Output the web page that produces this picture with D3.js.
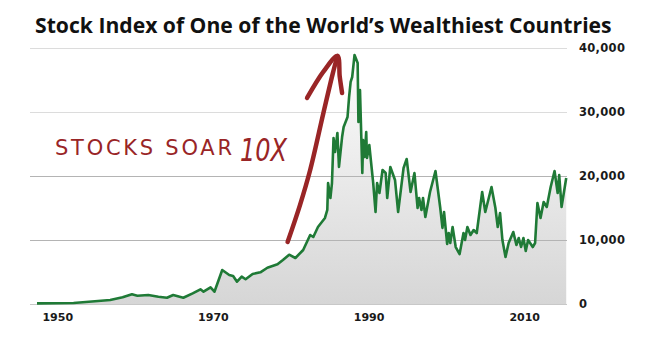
<!DOCTYPE html>
<html>
<head>
<meta charset="utf-8">
<script src="https://cdn.jsdelivr.net/npm/d3@7"></script>
<style>
  html, body { margin: 0; padding: 0; background: #fff; }
  svg { display: block; }
</style>
</head>
<body>
<div id="chart"></div>
<script>
// Index values (year as plotted, index level)
const years = [
  1947.4, 1952.1, 1956.8, 1958.4, 1959.6, 1960.3, 1961.7, 1963.0, 1964.1, 1964.9,
  1966.2, 1967.4, 1968.4, 1968.8, 1969.7, 1970.2, 1971.2, 1972.1, 1972.6, 1973.1,
  1973.7, 1974.2, 1975.1, 1976.1, 1977.0, 1978.3, 1979.0, 1979.8, 1980.6, 1981.6,
  1982.5, 1982.9, 1983.5, 1984.4, 1984.7, 1984.8, 1985.1, 1985.3, 1985.5, 1985.7,
  1986.0, 1986.2, 1986.6, 1986.8, 1987.3, 1987.5, 1987.7, 1987.9, 1988.2, 1988.6,
  1988.7, 1988.9, 1989.2, 1989.3, 1989.5, 1989.7, 1989.8, 1990.1, 1990.4, 1990.6,
  1990.9, 1991.1, 1991.4, 1991.8, 1992.2, 1992.4, 1992.8, 1993.4, 1993.8, 1994.5,
  1994.9, 1995.1, 1995.4, 1995.9, 1996.3, 1996.5, 1996.8, 1997.0, 1997.3, 1997.9,
  1998.6, 1999.2, 1999.5, 1999.7, 2000.1, 2000.3, 2000.5, 2000.8, 2001.2, 2001.7,
  2002.2, 2002.4, 2002.7, 2003.1, 2003.5, 2003.9, 2004.6, 2005.0, 2005.8, 2006.3,
  2006.6, 2006.9, 2007.2, 2007.6, 2008.0, 2008.6, 2009.0, 2009.3, 2009.6, 2009.9,
  2010.2, 2010.5, 2011.1, 2011.4, 2011.7, 2012.1, 2012.5, 2012.9, 2013.4, 2013.9,
  2014.3, 2014.5, 2014.8, 2015.4
];
const values = [
  100, 150, 620, 1050, 1520, 1300, 1400, 1140, 980, 1400,
  980, 1670, 2300, 1920, 2610, 1920, 5310, 4530, 4380, 3480,
  4270, 3860, 4690, 4950, 5670, 6200, 6880, 7700, 7190, 8440,
  10780, 10470, 12030, 13440, 14690, 18900, 16560, 18900, 25940, 23750,
  26720, 21410, 26090, 27660, 29220, 32340, 34690, 35470, 38910, 37660,
  28440, 33440, 20470, 25620, 22970, 26880, 22810, 24840, 21250, 18900,
  14380, 18900, 17340, 20940, 20470, 16560, 21410, 19380, 14380, 21250,
  22660, 20620, 17500, 20470, 15000, 16560, 14690, 16560, 13590, 17500,
  20780, 15160, 11880, 14380, 9380, 11090, 9530, 12030, 8900, 7810,
  11090, 10000, 12030, 10780, 11560, 11090, 17500, 14380, 18280, 15000,
  12030, 14220, 10000, 7340, 9530, 11250, 9220, 10310, 8900, 10310,
  8280, 10000, 8900, 9530, 15780, 13440, 15940, 15160, 18280, 20780,
  17340, 20160, 15160, 19690
];
const yTicks = [0, 10000, 20000, 30000, 40000];
const xTicks = [1950, 1970, 1990, 2010];
const title = "Stock Index of One of the World\u2019s Wealthiest Countries";
const noteText = "STOCKS SOAR";
const noteBig = "10X";
// hand-drawn arrow, in chart units [year, value]
const arrowShaft = [[1979.6, 9690], [1981.2, 15500], [1982.5, 20940], [1984.2, 29840], [1985.4, 36000], [1986.0, 38750]];
const arrowHead = [[1982.1, 32190], [1984.2, 36300], [1986.0, 38750], [1986.3, 35500], [1986.6, 32970]];

const data = years.map((y, i) => ({ year: y, value: values[i] }));

const W = 650, H = 351;
const svg = d3.select('#chart').append('svg')
  .attr('width', W).attr('height', H);

const x = d3.scaleLinear().domain([1946.5, 2015.5]).range([30, 567]);
const y = d3.scaleLinear().domain([0, 40000]).range([304, 48]);

// gradient under the curve
const defs = svg.append('defs');
const grad = defs.append('linearGradient').attr('id', 'fillGrad')
  .attr('x1', 0).attr('y1', 0).attr('x2', 0).attr('y2', 1);
grad.append('stop').attr('offset', '0%').attr('stop-color', '#fdfdfd');
grad.append('stop').attr('offset', '100%').attr('stop-color', '#d6d6d6');

// area
const area = d3.area()
  .x(d => x(d.year))
  .y0(y(0))
  .y1(d => y(d.value));
svg.append('path')
  .datum(data)
  .attr('d', area)
  .attr('fill', 'url(#fillGrad)');

// horizontal grid
svg.append('g')
  .selectAll('line')
  .data(yTicks)
  .enter()
  .append('line')
  .attr('x1', 30).attr('x2', 567)
  .attr('y1', d => y(d) + 0.5).attr('y2', d => y(d) + 0.5)
  .attr('stroke', d => d >= 30000 ? '#dcdcdc' : (d === 0 ? '#c8c8c8' : '#b4b4b4'))
  .attr('stroke-width', 1);

// line
const line = d3.line()
  .x(d => x(d.year))
  .y(d => y(d.value));
svg.append('path')
  .datum(data)
  .attr('d', line)
  .attr('fill', 'none')
  .attr('stroke', '#1f7a36')
  .attr('stroke-width', 2.6)
  .attr('stroke-linejoin', 'round');

// y axis (right side labels)
const yAxis = d3.axisRight(y)
  .tickValues(yTicks)
  .tickSize(0)
  .tickPadding(0)
  .tickFormat(d3.format(','));
const gy = svg.append('g')
  .attr('transform', 'translate(579,0)')
  .call(yAxis);
gy.select('.domain').remove();
gy.selectAll('text')
  .attr('font-family', 'DejaVu Sans, sans-serif')
  .attr('font-weight', 700)
  .attr('font-size', 11.5)
  .attr('letter-spacing', 0.3)
  .attr('fill', '#1a1a1a');

// x axis labels
const xAxis = d3.axisBottom(x)
  .tickValues(xTicks)
  .tickSize(0)
  .tickPadding(0)
  .tickFormat(d3.format('d'));
const gx = svg.append('g')
  .attr('transform', 'translate(0,313)')
  .call(xAxis);
gx.select('.domain').remove();
gx.selectAll('text')
  .attr('font-family', 'DejaVu Sans, sans-serif')
  .attr('font-weight', 700)
  .attr('font-size', 11)
  .attr('fill', '#1a1a1a');

// title
const t = svg.append('text')
  .attr('x', 35).attr('y', 33)
  .attr('font-family', 'Open Sans, sans-serif')
  .attr('font-weight', 700)
  .attr('font-size', 20)
  .attr('fill', '#111')
  .text(title);
const tw = t.node().getComputedTextLength();
t.attr('font-size', 20 * 577 / tw);

// annotation arrow
const red = '#992526';
const curve = d3.line()
  .x(d => x(d[0]))
  .y(d => y(d[1]))
  .curve(d3.curveCatmullRom);
svg.append('path')
  .attr('d', curve(arrowShaft))
  .attr('fill', 'none')
  .attr('stroke', red)
  .attr('stroke-width', 4.5)
  .attr('stroke-linecap', 'round');
svg.append('path')
  .attr('d', curve(arrowHead))
  .attr('fill', 'none')
  .attr('stroke', red)
  .attr('stroke-width', 4.5)
  .attr('stroke-linecap', 'round')
  .attr('stroke-linejoin', 'round');

// annotation text
svg.append('text')
  .attr('x', 55).attr('y', 155)
  .attr('font-family', 'DejaVu Sans, sans-serif')
  .attr('font-size', 21)
  .attr('textLength', 177)
  .attr('lengthAdjust', 'spacing')
  .attr('fill', red)
  .text(noteText);
svg.append('text')
  .attr('x', 240).attr('y', 161)
  .attr('font-family', 'DejaVu Sans, sans-serif')
  .attr('font-size', 32)
  .attr('font-style', 'italic')
  .attr('textLength', 47)
  .attr('lengthAdjust', 'spacingAndGlyphs')
  .attr('fill', red)
  .text(noteBig);
</script>
</body>
</html>
